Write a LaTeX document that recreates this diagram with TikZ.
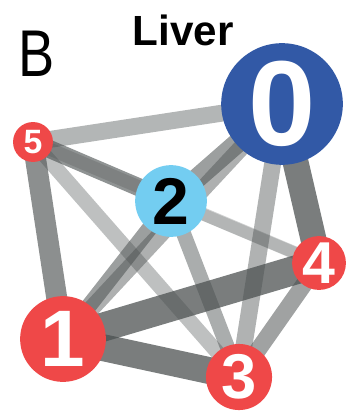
\documentclass[tikz,border=0pt]{standalone}
\usepackage{fontspec}
\setmainfont{Liberation Sans}
\usetikzlibrary{backgrounds}

\definecolor{hubblue}{RGB}{50,89,166}
\definecolor{midblue}{RGB}{115,205,241}
\definecolor{modred}{RGB}{239,72,72}
\definecolor{linkgray}{RGB}{75,80,80}

\begin{document}
\begin{tikzpicture}[
  x=0.025cm, y=-0.025cm,
  module/.style={circle, inner sep=0pt, font=\bfseries, text=white},
  link/.style={draw=linkgray, line cap=butt},
  lbl/.style={inner sep=0pt}
]
\useasboundingbox (0,0) rectangle (346,411);

% panel letter and title
\node[lbl, font=\fontsize{47}{47}\selectfont, xscale=0.82] (panel) at (37,54) {B};
\node[lbl, font=\fontsize{30}{30}\selectfont\bfseries] (title) at (183,30) {Liver};

% modules
\node[module, fill=hubblue, minimum size=86.5pt, font=\fontsize{86}{86}\selectfont\bfseries] (m0) at (282,104) {0};
\node[module, fill=midblue, minimum size=51pt, text=black, font=\fontsize{47}{47}\selectfont\bfseries] (m2) at (171,201) {2};
\node[module, fill=modred, minimum size=28.4pt, font=\fontsize{24}{24}\selectfont\bfseries] (m5) at (33,142) {5};
\node[module, fill=modred, minimum size=38.3pt, font=\fontsize{42}{42}\selectfont\bfseries] (m4) at (319,263) {4};
\node[module, fill=modred, minimum size=61pt, font=\fontsize{57}{57}\selectfont\bfseries] (m1) at (63,339) {1};
\node[module, fill=modred, minimum size=47pt, font=\fontsize{45}{45}\selectfont\bfseries] (m3) at (239,377) {3};

% links, width and shade after weight
\begin{scope}[on background layer]
  \draw[link, line width=12pt, draw opacity=.42] (m0.center) -- (m5.center);
  \draw[link, line width=12pt, draw opacity=.45] (m0.center) -- (m1.center);
  \draw[link, line width=14.2pt, draw opacity=.55] (m0.center) -- (m2.center);
  \draw[link, line width=12pt, draw opacity=.44] (m0.center) -- (m3.center);
  \draw[link, line width=18.4pt, draw opacity=.74] (m0.center) -- (m4.center);
  \draw[link, line width=12.8pt, draw opacity=.62] (m5.center) -- (m2.center);
  \draw[link, line width=9.2pt, draw opacity=.26] (m5.center) -- (m4.center);
  \draw[link, line width=14.9pt, draw opacity=.64] (m5.center) -- (m1.center);
  \draw[link, line width=10.6pt, draw opacity=.36] (m5.center) -- (m3.center);
  \draw[link, line width=11.3pt, draw opacity=.55] (m2.center) -- (m1.center);
  \draw[link, line width=8.5pt, draw opacity=.22] (m2.center) -- (m4.center);
  \draw[link, line width=10.6pt, draw opacity=.47] (m2.center) -- (m3.center);
  \draw[link, line width=20.6pt, draw opacity=.74] (m1.center) -- (m4.center);
  \draw[link, line width=19.1pt, draw opacity=.74] (m1.center) -- (m3.center);
  \draw[link, line width=12pt, draw opacity=.53] (m4.center) -- (m3.center);
\end{scope}

\end{tikzpicture}
\end{document}
